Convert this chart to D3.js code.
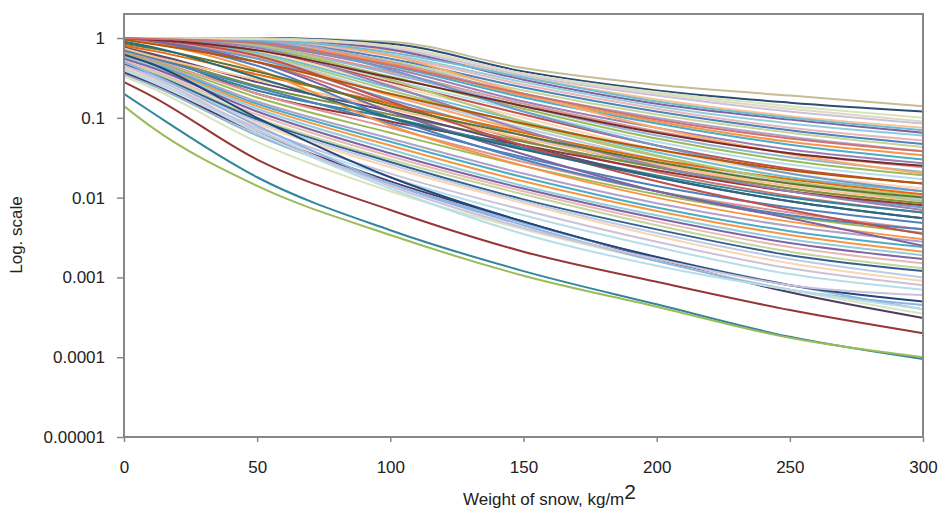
<!DOCTYPE html>
<html>
<head>
<meta charset="utf-8">
<script src="https://cdn.jsdelivr.net/npm/d3@7"></script>
<style>
  body { margin: 0; background: #fff; }
  text { font-family: "Liberation Sans", Arial, sans-serif; fill: #222; }
</style>
</head>
<body>
<div id="app"></div>
<script>
// weight of snow, kg/m2
let xValues = [0, 10, 50, 100, 150, 200, 250, 300];

let xTicks = [0, 50, 100, 150, 200, 250, 300];
let yTicks = [0.00001, 0.0001, 0.001, 0.01, 0.1, 1];
let yTickLabels = ['0.00001', '0.0001', '0.001', '0.01', '0.1', '1'];

// one row per curve, values at xValues
let seriesValues = [
  [1, 1, 1, 0.9, 0.42, 0.26, 0.19, 0.14],
  [1, 1, 1, 0.85, 0.38, 0.22, 0.155, 0.12],
  [1, 1, 0.99, 0.8, 0.36, 0.21, 0.14, 0.1],
  [1, 1, 0.98, 0.75, 0.34, 0.19, 0.12, 0.085],
  [1, 1, 0.97, 0.7, 0.32, 0.17, 0.105, 0.075],
  [1, 1, 0.96, 0.72, 0.3, 0.15, 0.095, 0.065],
  [1, 1, 0.95, 0.62, 0.28, 0.14, 0.085, 0.06],
  [1, 1, 0.94, 0.6, 0.26, 0.13, 0.075, 0.052],
  [1, 1, 0.92, 0.55, 0.24, 0.12, 0.07, 0.047],
  [1, 1, 0.9, 0.52, 0.22, 0.11, 0.065, 0.043],
  [1, 1, 0.93, 0.5, 0.2, 0.1, 0.058, 0.038],
  [1, 0.99, 0.88, 0.48, 0.19, 0.09, 0.05, 0.034],
  [1, 0.99, 0.85, 0.45, 0.18, 0.085, 0.046, 0.03],
  [1, 0.98, 0.83, 0.42, 0.16, 0.075, 0.04, 0.027],
  [1, 0.98, 0.8, 0.38, 0.15, 0.068, 0.036, 0.024],
  [1, 0.97, 0.78, 0.36, 0.14, 0.06, 0.032, 0.021],
  [1, 0.97, 0.75, 0.33, 0.13, 0.055, 0.029, 0.019],
  [1, 0.96, 0.72, 0.3, 0.12, 0.05, 0.026, 0.017],
  [1, 0.96, 0.7, 0.28, 0.11, 0.045, 0.023, 0.015],
  [1, 0.95, 0.68, 0.26, 0.1, 0.04, 0.02, 0.013],
  [1, 0.95, 0.65, 0.24, 0.09, 0.037, 0.018, 0.012],
  [1, 0.94, 0.62, 0.22, 0.082, 0.033, 0.016, 0.0105],
  [1, 0.94, 0.6, 0.2, 0.075, 0.03, 0.015, 0.0095],
  [1, 0.93, 0.57, 0.19, 0.068, 0.027, 0.013, 0.0085],
  [1, 0.92, 0.55, 0.17, 0.06, 0.024, 0.012, 0.0075],
  [1, 0.9, 0.5, 0.15, 0.052, 0.021, 0.0105, 0.0065],
  [0.75, 0.62, 0.2, 0.09, 0.045, 0.022, 0.012, 0.008],
  [0.8, 0.7, 0.35, 0.15, 0.065, 0.03, 0.017, 0.011],
  [0.72, 0.6, 0.25, 0.11, 0.05, 0.024, 0.013, 0.0085],
  [0.7, 0.58, 0.22, 0.1, 0.042, 0.019, 0.01, 0.0065],
  [0.76, 0.64, 0.28, 0.12, 0.045, 0.018, 0.009, 0.0055],
  [0.74, 0.6, 0.3, 0.13, 0.055, 0.026, 0.014, 0.009],
  [0.68, 0.56, 0.24, 0.085, 0.032, 0.014, 0.0075, 0.0048],
  [0.66, 0.54, 0.2, 0.075, 0.028, 0.012, 0.0065, 0.004],
  [0.64, 0.52, 0.18, 0.065, 0.025, 0.011, 0.0058, 0.0036],
  [0.62, 0.5, 0.16, 0.055, 0.02, 0.0085, 0.0044, 0.0028],
  [0.6, 0.48, 0.15, 0.05, 0.018, 0.0075, 0.0038, 0.0024],
  [0.58, 0.46, 0.14, 0.045, 0.016, 0.0068, 0.0034, 0.0021],
  [0.57, 0.45, 0.13, 0.04, 0.014, 0.006, 0.003, 0.0019],
  [0.55, 0.43, 0.12, 0.036, 0.013, 0.0055, 0.0027, 0.0017],
  [0.52, 0.4, 0.11, 0.033, 0.012, 0.005, 0.0024, 0.0015],
  [0.5, 0.38, 0.1, 0.03, 0.011, 0.0045, 0.0021, 0.0013],
  [0.47, 0.36, 0.095, 0.028, 0.0095, 0.004, 0.0019, 0.0012],
  [0.45, 0.34, 0.09, 0.026, 0.009, 0.0036, 0.0017, 0.001],
  [0.43, 0.32, 0.085, 0.024, 0.0085, 0.0033, 0.0015, 0.0009],
  [0.41, 0.3, 0.075, 0.02, 0.007, 0.0028, 0.0013, 0.0008],
  [0.39, 0.29, 0.07, 0.018, 0.006, 0.0024, 0.0011, 0.0007],
  [0.37, 0.27, 0.065, 0.016, 0.005, 0.0017, 0.00065, 0.00031],
  [0.35, 0.26, 0.06, 0.015, 0.0048, 0.0018, 0.0008, 0.0004],
  [0.33, 0.24, 0.05, 0.012, 0.004, 0.0016, 0.0007, 0.00035],
  [1, 0.9, 0.45, 0.1, 0.03, 0.012, 0.006, 0.004],
  [1, 0.88, 0.4, 0.08, 0.025, 0.01, 0.005, 0.003],
  [1, 0.92, 0.5, 0.12, 0.035, 0.012, 0.0055, 0.0025],
  [1, 0.95, 0.6, 0.16, 0.045, 0.016, 0.007, 0.0035],
  [0.62, 0.48, 0.1, 0.018, 0.005, 0.0018, 0.0008, 0.0005],
  [0.5, 0.36, 0.08, 0.015, 0.0045, 0.0016, 0.0007, 0.00045],
  [0.45, 0.33, 0.07, 0.014, 0.0042, 0.0017, 0.0008, 0.0006],
  [0.4, 0.3, 0.065, 0.013, 0.0035, 0.0014, 0.0007, 0.0004],
  [1, 1, 0.98, 0.6, 0.2, 0.075, 0.035, 0.02],
  [1, 1, 0.9, 0.4, 0.12, 0.045, 0.02, 0.012],
  [1, 0.98, 0.82, 0.3, 0.09, 0.034, 0.016, 0.009],
  [1, 0.97, 0.75, 0.25, 0.07, 0.025, 0.012, 0.007],
  [1, 1, 0.95, 0.66, 0.32, 0.16, 0.1, 0.07],
  [1, 1, 0.97, 0.78, 0.36, 0.2, 0.13, 0.09],
  [0.95, 0.85, 0.5, 0.2, 0.085, 0.04, 0.022, 0.015],
  [0.85, 0.75, 0.38, 0.14, 0.06, 0.028, 0.015, 0.01],
  [0.9, 0.78, 0.32, 0.1, 0.04, 0.018, 0.009, 0.0055],
  [1, 0.96, 0.7, 0.32, 0.14, 0.065, 0.036, 0.025],
  [1, 0.98, 0.86, 0.46, 0.2, 0.095, 0.055, 0.038],
  [0.28, 0.19, 0.03, 0.007, 0.0021, 0.00088, 0.00039, 0.0002],
  [0.2, 0.12, 0.018, 0.0039, 0.0012, 0.00046, 0.00018, 0.000095],
  [0.14, 0.078, 0.014, 0.0034, 0.00105, 0.00043, 0.000175, 0.0001]
];

// line colours, same order as seriesValues
let lineColors = [
  '#c4bd97', '#2c4d75', '#d7e4bd', '#ccc1da', '#fac090', '#8064a2',
  '#93cddd', '#e6b9b8', '#4f81bd', '#c3d69b', '#b3a2c7', '#f79646',
  '#4bacc6', '#9983b5', '#d99694', '#95b3d7', '#9bbb59', '#b7dee8',
  '#c0504d', '#fcd5b5', '#6fbdd1', '#afc97a', '#b9cde5', '#f9ab6b',
  '#729aca', '#cd7371', '#953735', '#e46c0a', '#77933c', '#31859c',
  '#5f497a', '#fac090', '#4f81bd', '#d99694', '#9bbb59', '#b3a2c7',
  '#4bacc6', '#f79646', '#93cddd', '#8064a2', '#e6b9b8', '#c3d69b',
  '#376092', '#b9cde5', '#fcd5b5', '#ccc1da', '#b7dee8', '#4d3b62',
  '#95b3d7', '#d7e4bd', '#4f81bd', '#f79646', '#8064a2', '#c0504d',
  '#1f497d', '#8eb4e3', '#ccc1da', '#b7dee8', '#f9ab6b', '#729aca',
  '#afc97a', '#9983b5', '#6fbdd1', '#ddd9c3', '#b65708', '#5f7530',
  '#276a7c', '#772c2a', '#cd7371', '#953735', '#31859c', '#9bbb59'
];

let W = 939, H = 508;
let plot = { left: 124, right: 923, top: 14, bottom: 437 };

let svg = d3.select('#app').append('svg')
    .attr('width', W)
    .attr('height', H);

let xScale = d3.scaleLinear()
               .domain([0, 300])
               .range([plot.left, plot.right]);

let yScale = d3.scaleLog()
               .domain([0.00001, 2])
               .range([plot.bottom, plot.top]);

let line = d3.line()
             .x(function(d, i) { return xScale(xValues[i]); })
             .y(function(d) { return yScale(d); })
             .curve(d3.curveMonotoneX);

svg.append('g')
  .selectAll('path')
  .data(seriesValues)
  .enter()
  .append('path')
    .attr('d', line)
    .attr('fill', 'none')
    .attr('stroke', function(d, i) { return lineColors[i % lineColors.length]; })
    .attr('stroke-width', 2)
    .attr('stroke-linejoin', 'round');

// plot frame
svg.append('rect')
  .attr('x', plot.left)
  .attr('y', plot.top)
  .attr('width', plot.right - plot.left)
  .attr('height', plot.bottom - plot.top)
  .attr('fill', 'none')
  .attr('stroke', '#878787')
  .attr('stroke-width', 2);

// y axis
let yAxis = d3.axisLeft(yScale)
              .tickValues(yTicks)
              .tickFormat(function(d, i) { return yTickLabels[i]; })
              .tickSize(7)
              .tickPadding(12);

let yGuide = svg.append('g')
  .attr('transform', `translate(${plot.left}, 0)`)
  .call(yAxis);

// x axis
let xAxis = d3.axisBottom(xScale)
              .tickValues(xTicks)
              .tickSize(5)
              .tickPadding(19);

let xGuide = svg.append('g')
  .attr('transform', `translate(0, ${plot.bottom})`)
  .call(xAxis);

[yGuide, xGuide].forEach(function(g) {
  g.select('.domain').remove();
  g.selectAll('line').attr('stroke', '#878787').attr('stroke-width', 1.5);
  g.selectAll('text')
    .style('font-family', '"Liberation Sans", Arial, sans-serif')
    .style('font-size', '17px')
    .attr('fill', '#222');
});

// axis titles
svg.append('text')
  .attr('transform', 'translate(22, 235) rotate(-90)')
  .attr('text-anchor', 'middle')
  .style('font-size', '17px')
  .text('Log. scale');

let xTitle = svg.append('text')
  .attr('x', 463)
  .attr('y', 505)
  .attr('text-anchor', 'start')
  .style('font-size', '17px');
xTitle.append('tspan').text('Weight of snow, kg/m');
xTitle.append('tspan')
  .attr('dy', -6)
  .style('font-size', '21px')
  .text('2');
</script>
</body>
</html>
